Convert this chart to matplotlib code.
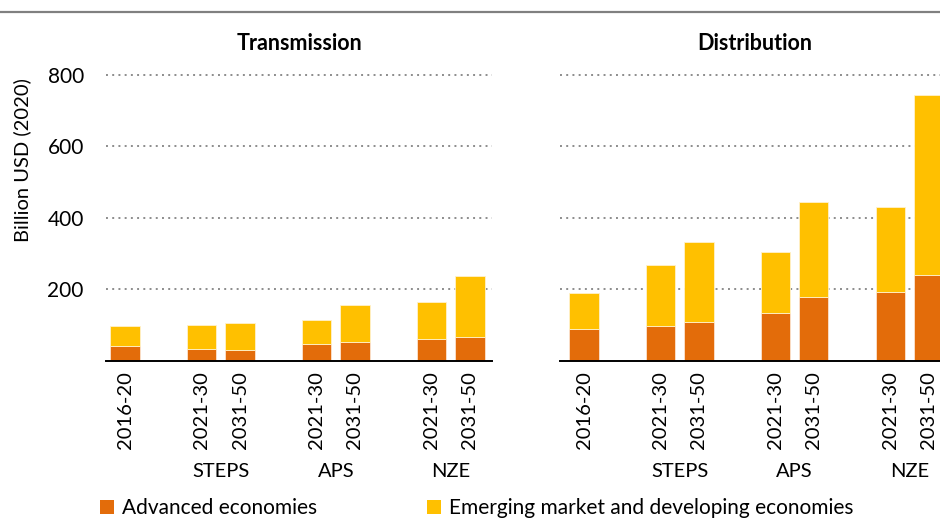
import numpy as np
import matplotlib
matplotlib.use("Agg")
import matplotlib.pyplot as plt
from matplotlib.lines import Line2D
from matplotlib.patches import Patch

plt.rcParams["font.family"] = ["Lato", "DejaVu Sans"]

# Investment in electricity networks, billion USD (2020)
periods = ["2016-20", "2021-30", "2031-50", "2021-30", "2031-50", "2021-30", "2031-50"]
positions = [0, 2, 3, 5, 6, 8, 9]
scenarios = ["STEPS", "APS", "NZE"]
scenario_centres = [2.5, 5.5, 8.5]

trans_advanced = [43, 33, 30, 47, 54, 62, 66]
trans_emerging = [55, 67, 77, 68, 102, 104, 171]
dist_advanced = [89, 98, 110, 133, 180, 193, 241]
dist_emerging = [100, 171, 224, 171, 266, 237, 504]

c_adv = "#E36C0A"
c_emd = "#FFC000"

fig = plt.figure(figsize=(9.4, 5.19), dpi=100)

ax1 = fig.add_axes([0.1128, 0.3044, 0.4106, 0.5857])
ax2 = fig.add_axes([0.5957, 0.3044, 0.4149, 0.5857])


def draw_panel(ax, adv, emd, title, xlim, show_y):
    ax.bar(positions, adv, width=0.77, color=c_adv, edgecolor="#fbe3d0", linewidth=0.6, zorder=3)
    ax.bar(positions, emd, bottom=adv, width=0.77, color=c_emd, edgecolor="#fff2cc",
           linewidth=0.6, zorder=3)
    ax.set_xlim(*xlim)
    ax.set_ylim(0, 850)
    ax.set_yticks([200, 400, 600, 800])
    ax.yaxis.grid(True, linestyle=(0, (1, 2.2)), color="#8c8c8c", linewidth=1.4, zorder=0)
    for s in ["top", "right", "left"]:
        ax.spines[s].set_visible(False)
    ax.spines["bottom"].set_linewidth(1.4)
    ax.spines["bottom"].set_zorder(4)
    ax.set_xticks(positions)
    ax.set_xticklabels(periods, rotation=90, fontsize=14.5)
    ax.tick_params(axis="x", length=0, pad=7)
    ax.tick_params(axis="y", length=0, pad=16, labelsize=15)
    if not show_y:
        ax.tick_params(axis="y", labelleft=False)
    ax.text(0.5, 1.043, title, transform=ax.transAxes,
            ha="center", va="center", fontsize=15.5, fontweight="bold")
    for sc, xc in zip(scenarios, scenario_centres):
        ax.text(xc, -0.362, sc, transform=ax.get_xaxis_transform(),
                ha="center", va="center", fontsize=14.5)


draw_panel(ax1, trans_advanced, trans_emerging, "Transmission", (-0.5, 9.58), True)
draw_panel(ax2, dist_advanced, dist_emerging, "Distribution", (-0.63, 9.56), False)

fig.text(22 / 940, 0.692, "Billion USD (2020)", rotation=90, ha="center", va="center", fontsize=14.5)

# rule across the top
fig.add_artist(Line2D([0, 1], [1 - 11.5 / 519] * 2, color="#808080", linewidth=1.6,
                      transform=fig.transFigure))

handles = [Patch(facecolor=c_adv), Patch(facecolor=c_emd)]
fig.legend(handles, ["Advanced economies", "Emerging market and developing economies"],
           loc="center left", bbox_to_anchor=(100 / 940, 1 - 508 / 519), ncol=2, frameon=False,
           fontsize=15, handlelength=0.65, handleheight=0.65, handletextpad=0.4,
           columnspacing=5.3, borderaxespad=0, borderpad=0)

fig.savefig("out.png", dpi=100)
